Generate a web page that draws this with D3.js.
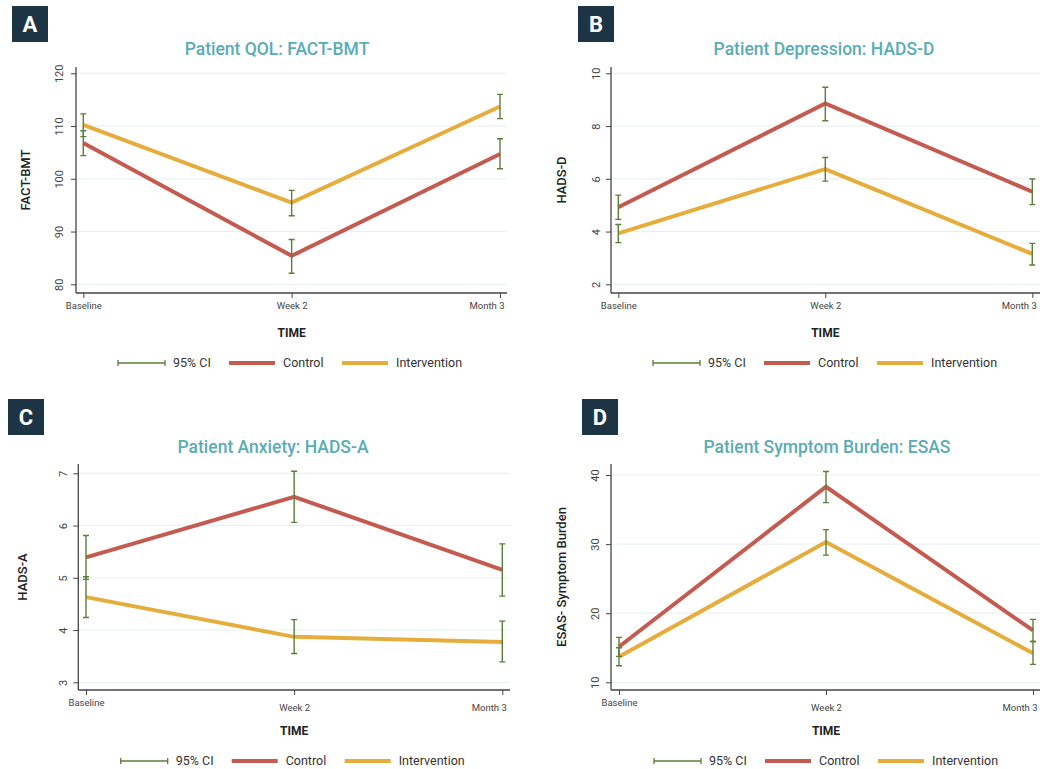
<!DOCTYPE html>
<html><head><meta charset="utf-8">
<script src="https://cdn.jsdelivr.net/npm/d3@7/dist/d3.min.js"></script>
<style>
body{margin:0;background:#fff;}
text{font-family:Roboto,"DejaVu Sans",sans-serif;}
</style></head>
<body><svg id="c" width="1051" height="769"></svg>
<script>
const categories = ["Baseline", "Week 2", "Month 3"];
const legendLabels = ["95% CI", "Control", "Intervention"];

// Panel A: FACT-BMT
const aControl = [106.8, 85.4, 104.7];
const aControlLo = [104.4, 82.1, 101.9];
const aControlHi = [109.1, 88.5, 107.6];
const aInterv = [110.2, 95.5, 113.7];
const aIntervLo = [108.0, 93.0, 111.4];
const aIntervHi = [112.3, 97.8, 116.0];
const aTicks = [80, 90, 100, 110, 120];

// Panel B: HADS-D
const bControl = [4.92, 8.86, 5.51];
const bControlLo = [4.46, 8.2, 5.02];
const bControlHi = [5.38, 9.47, 5.99];
const bInterv = [3.93, 6.37, 3.15];
const bIntervLo = [3.58, 5.91, 2.73];
const bIntervHi = [4.27, 6.81, 3.55];
const bTicks = [2, 4, 6, 8, 10];

// Panel C: HADS-A
const cControl = [5.39, 6.55, 5.15];
const cControlLo = [4.97, 6.06, 4.65];
const cControlHi = [5.81, 7.04, 5.65];
const cInterv = [4.63, 3.87, 3.77];
const cIntervLo = [4.24, 3.55, 3.39];
const cIntervHi = [5.02, 4.2, 4.17];
const cTicks = [3, 4, 5, 6, 7];

// Panel D: ESAS
const dControl = [15.15, 38.3, 17.5];
const dControlLo = [13.75, 36.0, 15.9];
const dControlHi = [16.5, 40.5, 19.1];
const dInterv = [13.7, 30.3, 14.2];
const dIntervLo = [12.4, 28.4, 12.6];
const dIntervHi = [15.0, 32.1, 15.9];
const dTicks = [10, 20, 30, 40];

const COL_CTRL = "#c45a50", COL_INT = "#e6ad3c", COL_CI = "#5b7f3a";
const COL_TITLE = "#5aacb6", COL_BADGE = "#1d3444";

const panels = [
  {letter:"A", title:"Patient QOL: FACT-BMT", ytitle:"FACT-BMT",
   badgeX:12, badgeY:6, axisX:76, axisRight:507, axisTop:67, axisBottom:293,
   x0:83.3, x1:500, yMin:80, yMax:120, yPixMin:284.3, yPixMax:73.3, ytitleX:25, yLabX:59,
   titleX:277, titleY:55, tickLabY:306, baseDy:0, timeY:333, legY:363, legX:118,
   ticks:aTicks, ctrl:aControl, ctrlLo:aControlLo, ctrlHi:aControlHi, int:aInterv, intLo:aIntervLo, intHi:aIntervHi},
  {letter:"B", title:"Patient Depression: HADS-D", ytitle:"HADS-D",
   badgeX:578, badgeY:6, axisX:611, axisRight:1040, axisTop:67, axisBottom:293,
   x0:618.3, x1:1032.3, yMin:2, yMax:10, yPixMin:284.3, yPixMax:73.3, ytitleX:561, yLabX:596,
   titleX:824, titleY:55, tickLabY:306, baseDy:0, timeY:333, legY:363, legX:653,
   ticks:bTicks, ctrl:bControl, ctrlLo:bControlLo, ctrlHi:bControlHi, int:bInterv, intLo:bIntervLo, intHi:bIntervHi},
  {letter:"C", title:"Patient Anxiety: HADS-A", ytitle:"HADS-A",
   badgeX:8, badgeY:399, axisX:78.3, axisRight:510, axisTop:464, axisBottom:690,
   x0:86, x1:502.3, yMin:3, yMax:7, yPixMin:682.3, yPixMax:473.3, ytitleX:22, yLabX:63,
   titleX:273, titleY:453, tickLabY:707.7, baseDy:-4.4, timeY:731, legY:761, legX:120.7,
   ticks:cTicks, ctrl:cControl, ctrlLo:cControlLo, ctrlHi:cControlHi, int:cInterv, intLo:cIntervLo, intHi:cIntervHi},
  {letter:"D", title:"Patient Symptom Burden: ESAS", ytitle:"ESAS- Symptom Burden",
   badgeX:582, badgeY:399, axisX:611, axisRight:1040, axisTop:464, axisBottom:690,
   x0:619, x1:1033, yMin:10, yMax:40, yPixMin:682.3, yPixMax:475, ytitleX:561, yLabX:595,
   titleX:827, titleY:453, tickLabY:707.7, baseDy:-4.4, timeY:731, legY:761, legX:654,
   ticks:dTicks, ctrl:dControl, ctrlLo:dControlLo, ctrlHi:dControlHi, int:dInterv, intLo:dIntervLo, intHi:dIntervHi}
];

const svg = d3.select("#c");

panels.forEach(p => {
  const g = svg.append("g");
  // badge
  g.append("rect").attr("x", p.badgeX).attr("y", p.badgeY).attr("width", 36).attr("height", 36).attr("fill", COL_BADGE);
  g.append("text").attr("x", p.badgeX + 18).attr("y", p.badgeY + 26).attr("text-anchor", "middle")
    .attr("fill", "#fff").attr("font-size", 22).attr("font-weight", 700).text(p.letter);
  // title
  g.append("text").attr("x", p.titleX).attr("y", p.titleY).attr("text-anchor", "middle")
    .attr("fill", COL_TITLE).attr("font-size", 17.5).attr("font-weight", 500).text(p.title);

  const x = d3.scalePoint().domain(categories).range([p.x0, p.x1]);
  const y = d3.scaleLinear().domain([p.yMin, p.yMax]).range([p.yPixMin, p.yPixMax]);

  // gridlines
  g.append("g").selectAll("line").data(p.ticks).join("line")
    .attr("x1", p.axisX).attr("x2", p.axisRight)
    .attr("y1", d => y(d)).attr("y2", d => y(d))
    .attr("stroke", "#e6efef").attr("stroke-width", 1);

  // y axis
  const yAxis = d3.axisLeft(y).tickValues(p.ticks).tickSize(5).tickPadding(4).tickFormat(d3.format("d"));
  const yg = g.append("g").attr("transform", `translate(${p.axisX},0)`).call(yAxis);
  yg.select(".domain").attr("d", `M0,${p.axisTop}V${p.axisBottom}`).attr("stroke", "#444").attr("stroke-width", 1.3);
  yg.selectAll(".tick line").attr("stroke", "#444");
  yg.selectAll(".tick text")
    .attr("x", 0).attr("y", 0).attr("dy", "0.35em")
    .attr("text-anchor", "middle").attr("font-size", 11).attr("fill", "#444")
    .attr("transform", `translate(${p.yLabX - p.axisX},0) rotate(-90)`);

  // x axis
  const xAxis = d3.axisBottom(x).tickSize(5).tickPadding(4);
  const xg = g.append("g").attr("transform", `translate(0,${p.axisBottom})`).call(xAxis);
  xg.select(".domain").attr("d", `M${p.axisX},0H${p.axisRight}`).attr("stroke", "#444").attr("stroke-width", 1.3);
  xg.selectAll(".tick line").attr("stroke", "#444");
  xg.selectAll(".tick text").attr("font-size", 9.5).attr("fill", "#444")
    .attr("y", 0).attr("dy", d => (p.tickLabY - p.axisBottom + 3 + (d === "Baseline" ? p.baseDy : 0)))
    .attr("text-anchor", (d, i) => i === 2 ? "end" : "middle")
    .attr("x", (d, i) => i === 2 ? 4 : 0);

  // axis titles
  g.append("text").attr("x", x("Week 2")).attr("y", p.timeY + 4).attr("text-anchor", "middle")
    .attr("font-size", 12).attr("font-weight", 700).attr("fill", "#222").text("TIME");
  const ymid = (p.axisTop + p.axisBottom) / 2;
  g.append("text").attr("transform", `translate(${p.ytitleX},${ymid}) rotate(-90)`).attr("dy", "0.35em")
    .attr("text-anchor", "middle").attr("font-size", 13).attr("font-weight", 500).attr("fill", "#222").text(p.ytitle);

  // lines
  const line = d3.line().x((d, i) => x(categories[i])).y(d => y(d));
  g.append("path").datum(p.int).attr("d", line).attr("fill", "none").attr("stroke", COL_INT).attr("stroke-width", 4);
  g.append("path").datum(p.ctrl).attr("d", line).attr("fill", "none").attr("stroke", COL_CTRL).attr("stroke-width", 4);

  // CI bars
  const ci = [];
  categories.forEach((c, i) => {
    ci.push({c, lo: p.ctrlLo[i], hi: p.ctrlHi[i]});
    ci.push({c, lo: p.intLo[i], hi: p.intHi[i]});
  });
  const cg = g.append("g").attr("stroke", COL_CI).attr("stroke-width", 1.4).attr("fill", "none");
  cg.selectAll("path").data(ci).join("path")
    .attr("d", d => {
      const cx = x(d.c), yl = y(d.lo), yh = y(d.hi);
      return `M${cx},${yl}V${yh}M${cx-3},${yh}H${cx+3}M${cx-3},${yl}H${cx+3}`;
    });

  // legend
  const lx = p.legX, ly = p.legY;
  g.append("path").attr("d", `M${lx},${ly-3}V${ly+3}M${lx},${ly}H${lx+47}M${lx+47},${ly-3}V${ly+3}`)
    .attr("stroke", COL_CI).attr("stroke-width", 1.3).attr("fill", "none");
  g.append("text").attr("x", lx + 55).attr("y", ly).attr("dy", "0.35em").attr("font-size", 12.5).attr("fill", "#333").text(legendLabels[0]);
  g.append("line").attr("x1", lx + 111).attr("x2", lx + 157).attr("y1", ly).attr("y2", ly).attr("stroke", COL_CTRL).attr("stroke-width", 4);
  g.append("text").attr("x", lx + 165).attr("y", ly).attr("dy", "0.35em").attr("font-size", 12.5).attr("fill", "#333").text(legendLabels[1]);
  g.append("line").attr("x1", lx + 224).attr("x2", lx + 270).attr("y1", ly).attr("y2", ly).attr("stroke", COL_INT).attr("stroke-width", 4);
  g.append("text").attr("x", lx + 278).attr("y", ly).attr("dy", "0.35em").attr("font-size", 12.5).attr("fill", "#333").text(legendLabels[2]);
});
</script>
</body></html>
